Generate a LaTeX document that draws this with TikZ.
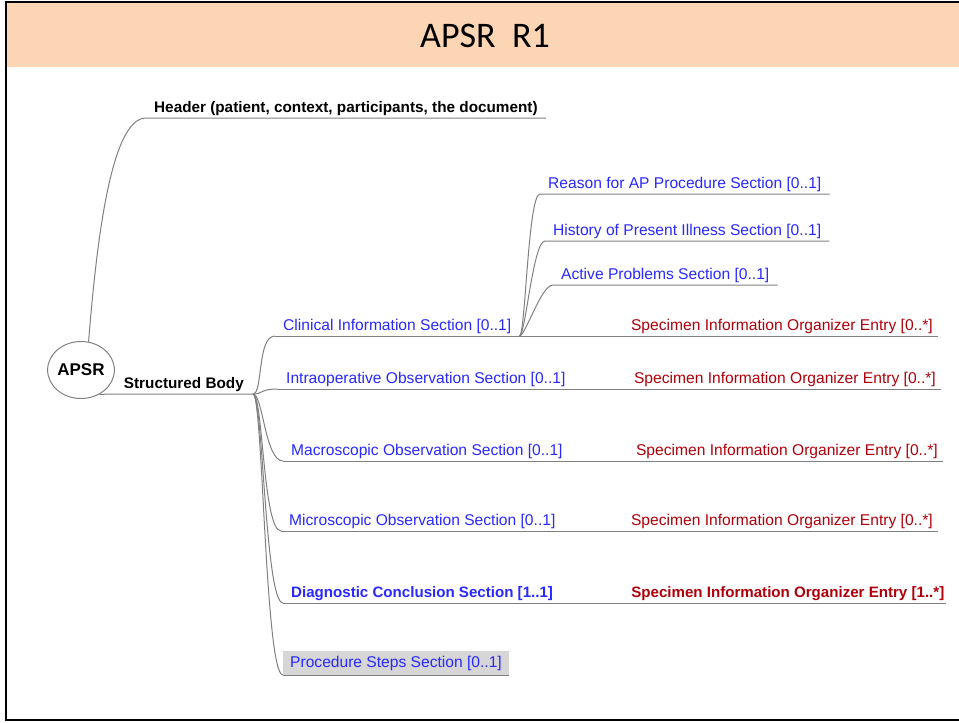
\documentclass[tikz,border=0pt]{standalone}
\usepackage{fontspec}
\setmainfont{Liberation Sans}
\newfontfamily\calibrifont{Carlito}
\usetikzlibrary{shapes.geometric}

\definecolor{titlepeach}{RGB}{252,213,181}
\definecolor{secblue}{RGB}{40,40,255}
\definecolor{entryred}{RGB}{175,0,10}
\definecolor{linegray}{RGB}{128,128,128}
\definecolor{boxgray}{RGB}{214,214,214}

\begin{document}
\begin{tikzpicture}[x=1pt, y=-1pt,
    edge/.style = {draw=linegray, line width=1pt},
    root/.style = {draw=linegray, ellipse, line width=1pt, minimum width=66pt, minimum height=57pt, inner sep=0pt, font=\fontsize{17}{19}\selectfont\bfseries},
    sec/.style = {text=secblue, font=\fontsize{15.6}{18}\selectfont, inner xsep=8pt, inner ysep=2pt, anchor=south west},
    entry/.style = {text=entryred, font=\fontsize{15.6}{18}\selectfont, inner xsep=5pt, inner ysep=2pt, anchor=south east},
    strong/.style = {font=\fontsize{15.3}{18}\selectfont\bfseries},
    required/.style = {font=\fontsize{15.1}{18}\selectfont\bfseries}]
  \useasboundingbox (0,0) rectangle (959,723);
  \fill[titlepeach] (6,3) rectangle (959,67);
  \draw[line width=2.5pt] (959,2) -- (6,2) -- (6,720) -- (959,720);
  \node[font=\calibrifont\fontsize{36}{40}\selectfont] (title) at (485,36) {APSR\ \ R1};

  \node[root] (apsr) at (81,370) {APSR};
  \node[sec, strong, text=black] (header) at (146,118) {Header (patient, context, participants, the document)};
  \node[sec, strong, text=black, anchor=south east, inner xsep=9pt] (body) at (253,394) {Structured Body};

  \node[sec] (clin) at (275,336) {Clinical Information Section [0..1]};
  \node[sec] (reason) at (540,194) {Reason for AP Procedure Section [0..1]};
  \node[sec] (history) at (545,241) {History of Present Illness Section [0..1]};
  \node[sec] (active) at (553,285) {Active Problems Section [0..1]};
  \node[sec] (intra) at (278,389) {Intraoperative Observation Section [0..1]};
  \node[sec] (macro) at (283,461) {Macroscopic Observation Section [0..1]};
  \node[sec] (micro) at (281,531) {Microscopic Observation Section [0..1]};
  \node[sec, required, text=secblue] (diag) at (283,603) {Diagnostic Conclusion Section [1..1]};
  \node[sec, fill=boxgray, inner xsep=7pt, inner ysep=4.5pt] (steps) at (283,675) {Procedure Steps Section [0..1]};

  \node[entry] (clinspec) at (938,336) {Specimen Information Organizer Entry [0..*]};
  \node[entry] (intraspec) at (941,389) {Specimen Information Organizer Entry [0..*]};
  \node[entry] (macrospec) at (943,461) {Specimen Information Organizer Entry [0..*]};
  \node[entry] (microspec) at (938,531) {Specimen Information Organizer Entry [0..*]};
  \node[entry, required, text=entryred, inner xsep=1.5pt] (diagspec) at (946,603) {Specimen Information Organizer Entry [1..*]};

  \draw[edge] (apsr.75) .. controls +(8,-100) and +(-35,0) .. (header.south west) -- (header.south east);
  \draw[edge] (apsr.-53) -- (body.south west) -- (body.south east);
  \foreach \n in {clin, intra, macro, micro, diag, steps}
    \draw[edge] (body.south east) .. controls +(10,0) and +(-18,0) .. (\n.south west);
  \foreach \n in {reason, history, active}
    \draw[edge] (clin.south east) .. controls +(6,0) and +(-12,0) .. (\n.south west) -- (\n.south east);
  \draw[edge] (clin.south west) -- (clinspec.south east);
  \draw[edge] (intra.south west) -- (intraspec.south east);
  \draw[edge] (macro.south west) -- (macrospec.south east);
  \draw[edge] (micro.south west) -- (microspec.south east);
  \draw[edge] (diag.south west) -- (diagspec.south east);
  \draw[edge] (steps.south west) -- (steps.south east);
\end{tikzpicture}
\end{document}
